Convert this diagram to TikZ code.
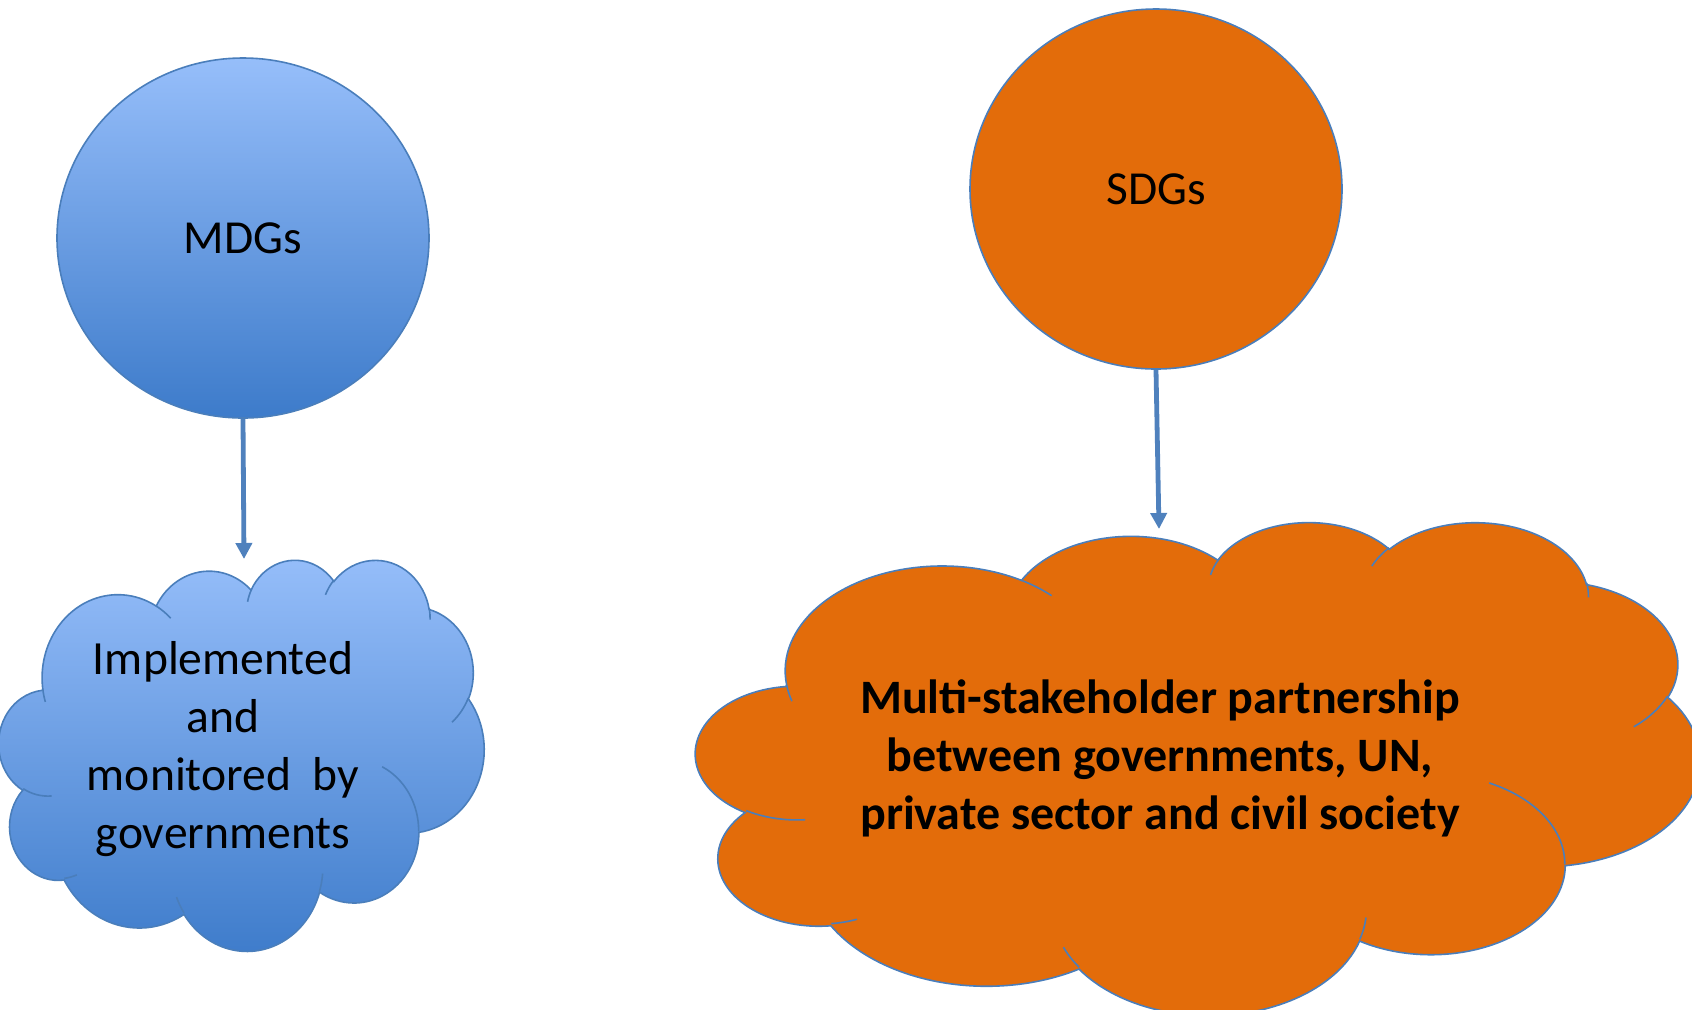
\documentclass[tikz,border=0pt]{standalone}
\usepackage{fontspec}
\setmainfont{Carlito}
\usepackage{tikz}
\usetikzlibrary{arrows.meta,shapes.geometric,positioning}

\definecolor{rimblue}{HTML}{4A7EBB}
\definecolor{arrowblue}{HTML}{4F81BD}
\definecolor{skytop}{HTML}{96BEFA}
\definecolor{skybottom}{HTML}{3D7BCA}
\definecolor{sdgorange}{HTML}{E36C0A}

% one bump of the cloud, angles taken as seen on screen
\newcommand\cloudarc[4]{%
  \pgfextra{%
    \pgfmathparse{atan2((#1)*sin(#3),(#2)*cos(#3))}\xdef\cloudta{\pgfmathresult}%
    \pgfmathparse{atan2((#1)*sin(#3+#4),(#2)*cos(#3+#4))}\xdef\cloudtb{\pgfmathresult}%
    \pgfmathparse{\cloudtb-\cloudta}\xdef\cloudtd{\pgfmathresult}%
    \pgfmathparse{\cloudtd+360*round(((#4)-(\cloudtd))/360)}\xdef\cloudtd{\pgfmathresult}}%
  arc[start angle=\cloudta, delta angle=\cloudtd, x radius=#1, y radius=#2]}

% cloud in a 432x432 box: #1 style, #2 left, #3 top, #4 width, #5 height
\newcommand\cloud[5]{%
  \pgfmathsetmacro\cloudxu{#4/864}%
  \pgfmathsetmacro\cloudyu{#5/864}%
  \begin{scope}[shift={(#2,#3)},x=\cloudxu pt,y=-\cloudyu pt]
    \path[#1] (39.00,143.70)
      \cloudarc{67.53}{91.90}{-190.4875}{123.7805}
      \cloudarc{53.33}{72.67}{-144.1024}{89.9452}
      \cloudarc{43.65}{59.45}{-145.8079}{99.7230}
      \cloudarc{48.57}{65.95}{-130.9861}{117.2417}
      \cloudarc{53.33}{72.73}{-78.7089}{109.0269}
      \cloudarc{67.75}{92.20}{-46.2673}{130.2690}
      \cloudarc{57.85}{78.67}{0.6250}{114.0333}
      \cloudarc{67.52}{92.15}{22.4516}{115.1726}
      \cloudarc{77.20}{105.43}{66.2426}{75.7110}
      \cloudarc{43.60}{59.18}{-274.9421}{146.7356}
      \cloudarc{43.45}{59.45}{-246.8285}{152.5189}
      -- cycle;
    \draw[rim]
      (46.93,261.77) \cloudarc{43.45}{59.45}{86.7420}{26.4295}
      (69.28,348.99) \cloudarc{43.60}{59.18}{73.6105}{11.4475}
      (164.78,390.90) \cloudarc{67.52}{92.15}{137.6242}{14.0811}
      (288.27,347.51) \cloudarc{67.52}{92.15}{6.4533}{15.9984}
      (341.29,229.54) \cloudarc{57.85}{78.67}{-70.2924}{70.9174}
      (417.98,153.54) \cloudarc{53.33}{72.73}{30.3180}{27.7515}
      (383.24,54.26) \cloudarc{48.57}{65.95}{-13.7443}{14.8589}
      (290.78,39.52) \cloudarc{48.57}{65.95}{-149.1815}{18.1954}
      (221.41,47.20) \cloudarc{43.65}{59.45}{-163.4943}{17.6864}
      (140.00,51.92) \cloudarc{67.53}{91.90}{-66.7070}{12.3194}
      (41.27,157.89) \cloudarc{67.53}{91.90}{157.6544}{11.8582};
  \end{scope}}

\begin{document}
\begin{tikzpicture}[x=0.5pt,y=-0.5pt,
  rim/.style={draw=rimblue,line width=0.8pt},
  goal/.style={ellipse,rim,minimum width=186pt,minimum height=180pt,inner sep=0pt,
    font=\fontsize{23.7}{28}\selectfont},
  link/.style={draw=arrowblue,line width=2.4pt,-{Triangle[length=8pt,width=8pt]}},
  cloudtext/.style={align=center,font=\fontsize{23.8}{29}\selectfont},
  bluefill/.style={top color=skytop,bottom color=skybottom},
  orangefill/.style={fill=sdgorange}]
\useasboundingbox (0,0) rectangle (1692,1009);
\clip (0,0) rectangle (1692,1009);

\cloud{rim,bluefill}{-1}{559}{485}{391}
\cloud{rim,orangefill}{696}{521}{1004}{493}

\node[goal,bluefill] (mdg) at (243,238) {MDGs};
\node[goal,orangefill] (sdg) at (1156,189) {SDGs};

\node[cloudtext] (impl) at (223,749) {Implemented\\and\\monitored\ \ by\\governments};
\node[cloudtext,font=\fontsize{24}{29}\selectfont\bfseries] (multi) at (1160,758)
  {Multi-stakeholder partnership\\between governments, UN,\\private sector and civil society};

\coordinate (mdgtip) at (244,559);
\coordinate (sdgtip) at (1159,529);
\draw[link] (mdg.south) -- (mdgtip);
\draw[link] (sdg.south) -- (sdgtip);
\end{tikzpicture}
\end{document}
